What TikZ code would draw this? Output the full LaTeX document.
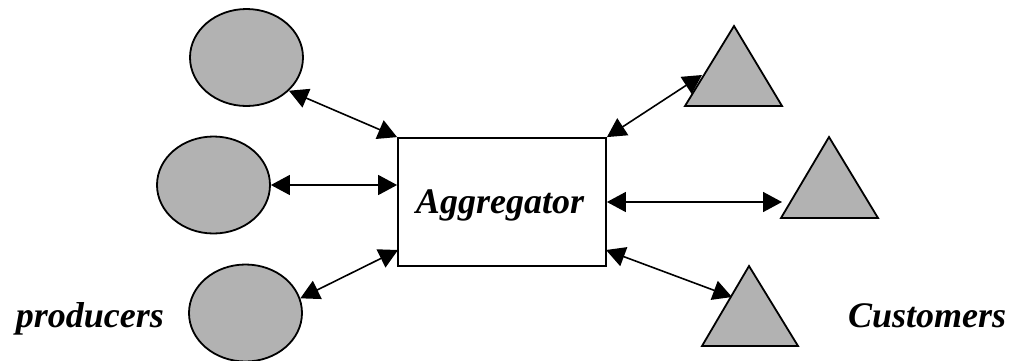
\documentclass[tikz,border=0pt]{standalone}
\usepackage{fontspec}
\setmainfont{Liberation Serif}[BoldItalicFont={Liberation Serif Bold Italic}]
\newfontfamily\lblfont{Liberation Serif Bold Italic}
\usetikzlibrary{shapes.geometric,arrows.meta,calc}
\begin{document}
\begin{tikzpicture}[x=1pt,y=-1pt,
  line width=1.8pt,
  prod/.style={ellipse,draw=black,fill=black!30,inner sep=0pt,minimum width=113pt,minimum height=97pt},
  cust/.style={draw=black,fill=black!30,line join=miter},
  aggbox/.style={draw=black,fill=white,inner sep=0pt,minimum width=208pt,minimum height=128pt},
  lbl/.style={font=\lblfont\fontsize{36}{40}\selectfont,inner sep=0pt},
  link/.style={>={Triangle[length=19pt,width=20pt]},<->,line width=1.6pt}]
\useasboundingbox (0,0) rectangle (1014,360);
% producers
\node[prod] (p1) at (246.5,57.5) {};
\node[prod] (p2) at (213.5,185) {};
\node[prod] (p3) at (245.5,313) {};
% aggregator
\node[aggbox] (agg) at (502,202) {};
\node[lbl,anchor=base] (aggtxt) at (500,213) {Aggregator};
% customers (triangles)
\draw[cust] (685,106) -- (782,106) -- (734,26) -- cycle;
\draw[cust] (781,218) -- (878,218) -- (829,137) -- cycle;
\draw[cust] (702,346) -- (798,346) -- (749,266) -- cycle;
\coordinate (c1) at (702,75);
\coordinate (c2) at (782,202);
\coordinate (c3) at (732,297);
\coordinate (aggL) at (398,250);
\coordinate (aggR) at (606,250);
% labels
\node[lbl,anchor=base west] (prodlbl) at (15,327) {producers};
\node[lbl,anchor=base east] (custlbl) at (1007,327) {Customers};
% links
\draw[link] (p1.-38) -- (agg.north west);
\draw[link] (p2.east) -- (p2.east -| agg.west);
\draw[link] (p3.15) -- (aggL);
\draw[link] (agg.north east) -- (c1);
\draw[link] (agg.east) -- (c2);
\draw[link] (aggR) -- (c3);
\end{tikzpicture}
\end{document}
